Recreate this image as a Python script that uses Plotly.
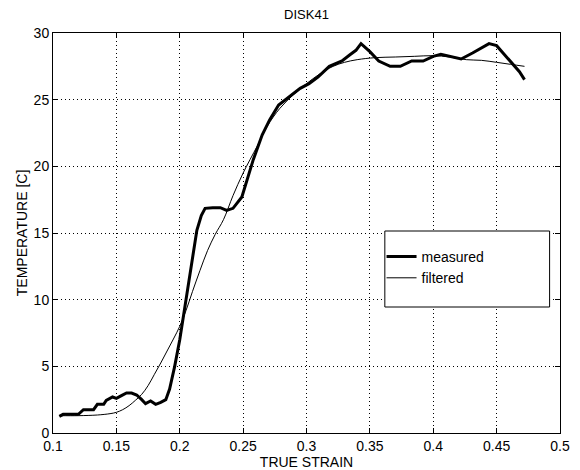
import plotly.graph_objects as go

# measured (thick) curve
meas_x = [0.105, 0.108, 0.120, 0.124, 0.132, 0.135, 0.140, 0.142, 0.147, 0.150,
          0.154, 0.158, 0.162, 0.166, 0.170, 0.173, 0.177, 0.181, 0.185, 0.189,
          0.192, 0.196, 0.200, 0.203, 0.207, 0.210, 0.2135, 0.217, 0.220, 0.226,
          0.232, 0.237, 0.242, 0.249, 0.253, 0.258, 0.265, 0.271, 0.278, 0.287,
          0.295, 0.302, 0.309, 0.318, 0.328, 0.334, 0.339, 0.343, 0.350, 0.357,
          0.366, 0.374, 0.383, 0.392, 0.400, 0.406, 0.414, 0.422, 0.431, 0.438,
          0.444, 0.450, 0.455, 0.463, 0.468, 0.472]
meas_y = [1.25, 1.4, 1.4, 1.75, 1.75, 2.15, 2.15, 2.45, 2.7, 2.6,
          2.8, 3.0, 3.0, 2.85, 2.5, 2.2, 2.4, 2.15, 2.3, 2.5,
          3.3, 5.0, 7.0, 8.8, 11.2, 13.0, 15.2, 16.3, 16.85, 16.9,
          16.9, 16.7, 16.85, 17.7, 19.0, 20.5, 22.35, 23.5, 24.6, 25.3,
          25.85, 26.2, 26.7, 27.5, 27.9, 28.35, 28.7, 29.2, 28.6, 27.9,
          27.5, 27.5, 27.9, 27.9, 28.25, 28.4, 28.25, 28.05, 28.5, 28.9,
          29.2, 29.05, 28.5, 27.7, 27.1, 26.5]

# filtered (thin) curve
filt_x = [0.105, 0.120, 0.135, 0.145, 0.150, 0.155, 0.160, 0.165, 0.170, 0.175,
          0.180, 0.185, 0.190, 0.195, 0.200, 0.205, 0.210, 0.216, 0.222, 0.228,
          0.2345, 0.242, 0.250, 0.261, 0.269, 0.279, 0.290, 0.300, 0.310, 0.321,
          0.330, 0.340, 0.354, 0.370, 0.385, 0.400, 0.413, 0.426, 0.438, 0.450,
          0.461, 0.472]
filt_y = [1.3, 1.3, 1.35, 1.45, 1.55, 1.75, 2.05, 2.45, 2.9, 3.55,
          4.4, 5.25, 6.15, 7.05, 8.0, 9.2, 10.6, 12.2, 13.7, 14.9,
          16.0, 17.8, 19.5, 21.5, 23.0, 24.35, 25.4, 26.2, 26.9, 27.5,
          27.8, 28.0, 28.15, 28.2, 28.25, 28.3, 28.2, 28.0, 27.95, 27.8,
          27.65, 27.5]

x_ticks = [0.1, 0.15, 0.2, 0.25, 0.3, 0.35, 0.4, 0.45, 0.5]
x_tick_labels = ["0.1", "0.15", "0.2", "0.25", "0.3", "0.35", "0.4", "0.45", "0.5"]
y_ticks = [0, 5, 10, 15, 20, 25, 30]
y_tick_labels = ["0", "5", "10", "15", "20", "25", "30"]

FONT = "Liberation Sans, Arial, Helvetica, sans-serif"

fig = go.Figure()
fig.add_trace(go.Scatter(x=meas_x, y=meas_y, mode="lines", name="measured",
                         line=dict(color="black", width=3)))
fig.add_trace(go.Scatter(x=filt_x, y=filt_y, mode="lines", name="filtered",
                         line=dict(color="black", width=1), line_shape="spline"))

axis_common = dict(showline=True, linecolor="black", linewidth=1, mirror="ticks",
                   ticks="inside", ticklen=5, tickcolor="black", automargin=False,
                   showgrid=True, gridcolor="black", gridwidth=1, griddash="1px,3px",
                   zeroline=False, tickfont=dict(family=FONT, size=14, color="black"))

fig.update_xaxes(range=[0.1, 0.5], tickvals=x_ticks, ticktext=x_tick_labels,
                 title=dict(text="TRUE STRAIN", font=dict(family=FONT, size=14, color="black"),
                            standoff=0),
                 **axis_common)
fig.update_yaxes(range=[0, 30], tickvals=y_ticks, ticktext=y_tick_labels,
                 title=dict(text="TEMPERATURE [C]", font=dict(family=FONT, size=14, color="black"),
                            standoff=2),
                 **axis_common)

# legend box
fig.add_shape(type="rect", xref="paper", yref="paper", x0=0.6545, x1=0.9795,
              y0=0.315, y1=0.505, line=dict(color="black", width=1),
              fillcolor="white", layer="above")

W, H = 572, 462
fig.update_layout(
    width=W, height=H,
    margin=dict(l=44.5, r=19.5, t=25, b=37, autoexpand=False),
    paper_bgcolor="white", plot_bgcolor="white",
    title=dict(text="DISK41", x=(306.5 - 8) / W, xanchor="center", y=1 - 6 / H,
               yref="container", yanchor="middle", automargin=False,
               font=dict(family=FONT, size=13, color="black")),
    showlegend=True,
    legend=dict(x=0.648, y=0.48, xanchor="left", yanchor="top",
                bgcolor="rgba(0,0,0,0)", borderwidth=0,
                font=dict(family=FONT, size=14, color="black"),
                tracegroupgap=0, itemwidth=30),
)

fig.write_html("out.html")
